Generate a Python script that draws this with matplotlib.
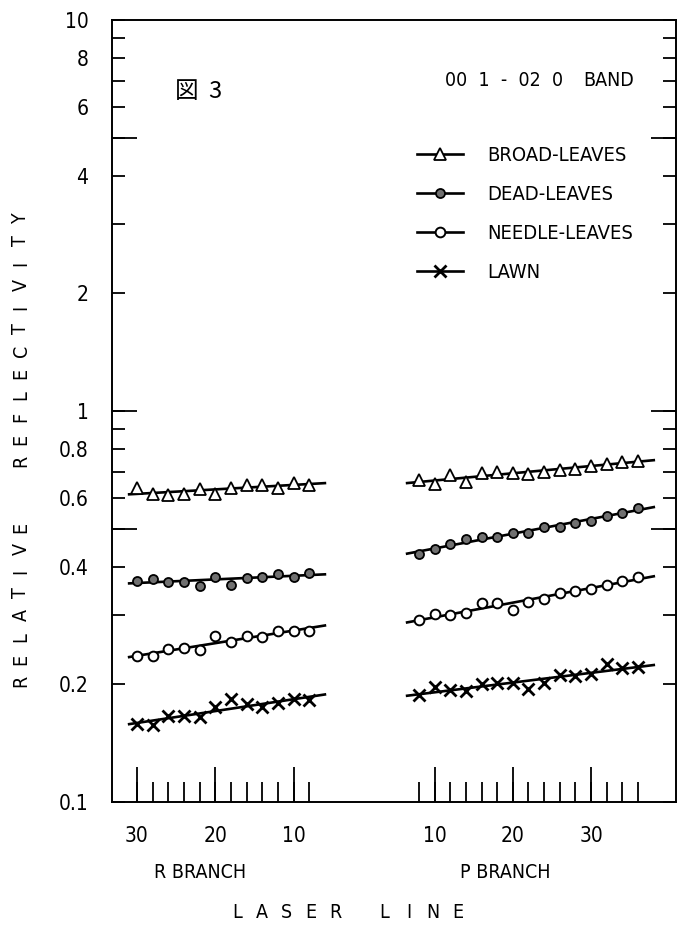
import numpy as np
import matplotlib
matplotlib.use("Agg")
import matplotlib.pyplot as plt
from matplotlib.lines import Line2D
from matplotlib.ticker import FixedLocator, FixedFormatter, NullFormatter

# =====================================
# Data
# =====================================
r_lines = [30, 28, 26, 24, 22, 20, 18, 16, 14, 12, 10, 8]
p_lines = [8, 10, 12, 14, 16, 18, 20, 22, 24, 26, 28, 30, 32, 34, 36]

broad_r = [0.634, 0.612, 0.610, 0.615, 0.631, 0.615, 0.634, 0.647, 0.647, 0.637, 0.656, 0.647]
dead_r = [0.368, 0.372, 0.366, 0.366, 0.357, 0.376, 0.359, 0.375, 0.376, 0.384, 0.377, 0.386]
needle_r = [0.236, 0.236, 0.246, 0.248, 0.245, 0.266, 0.256, 0.266, 0.265, 0.273, 0.274, 0.274]
lawn_r = [0.158, 0.157, 0.166, 0.166, 0.165, 0.175, 0.183, 0.178, 0.175, 0.179, 0.183, 0.182]

broad_p = [0.666, 0.649, 0.686, 0.657, 0.693, 0.700, 0.696, 0.689, 0.697, 0.707,
           0.711, 0.723, 0.731, 0.742, 0.746]
dead_p = [0.430, 0.443, 0.457, 0.471, 0.477, 0.475, 0.487, 0.487, 0.504, 0.506,
          0.516, 0.523, 0.540, 0.550, 0.566]
needle_p = [0.292, 0.303, 0.300, 0.304, 0.322, 0.322, 0.309, 0.325, 0.330, 0.343,
            0.347, 0.351, 0.359, 0.367, 0.377]
lawn_p = [0.188, 0.197, 0.193, 0.192, 0.200, 0.202, 0.201, 0.195, 0.202, 0.211,
          0.210, 0.213, 0.225, 0.220, 0.221]

series_names = ["BROAD-LEAVES", "DEAD-LEAVES", "NEEDLE-LEAVES", "LAWN"]
r_values = [broad_r, dead_r, needle_r, lawn_r]
p_values = [broad_p, dead_p, needle_p, lawn_p]

y_ticks = [0.1, 0.2, 0.3, 0.4, 0.5, 0.6, 0.7, 0.8, 0.9,
           1, 2, 3, 4, 5, 6, 7, 8, 9, 10]
y_labels = ["0.1", "0.2", "", "0.4", "", "0.6", "", "0.8", "",
            "1", "2", "", "4", "", "6", "", "8", "", "10"]
x_major_r = [30, 20, 10]
x_major_p = [10, 20, 30]

FONT = ["Liberation Sans Narrow", "DejaVu Sans"]
plt.rcParams["font.family"] = FONT
plt.rcParams["font.stretch"] = "condensed"


# R branch runs right-to-left, P branch left-to-right, with a gap between
def r_pos(j):
    return 30 - np.asarray(j, dtype=float)


def p_pos(j):
    return 28 + np.asarray(j, dtype=float)


styles = [
    dict(marker="^", mfc="white", mec="black", ms=9, mew=1.3),
    dict(marker="o", mfc="#707070", mec="black", ms=6.5, mew=1.3),
    dict(marker="o", mfc="white", mec="black", ms=7, mew=1.4),
    dict(marker="x", mec="black", ms=8, mew=2.0),
]

fig = plt.figure(figsize=(6.88, 9.40), dpi=100)
ax = fig.add_axes([112 / 688, 1 - 802 / 940, (676 - 112) / 688, (802 - 20) / 940])

for name, vr, vp, st in zip(series_names, r_values, p_values, styles):
    for pos, vals, span in ((r_pos(r_lines), vr, (-1.0, 24.0)),
                            (p_pos(p_lines), vp, (34.5, 66.0))):
        # straight fit line in log space
        a, b = np.polyfit(pos, np.log10(vals), 1)
        xs = np.array(span)
        ax.plot(xs, 10 ** (a * xs + b), color="black", lw=1.9, zorder=2)
        ax.plot(pos, vals, linestyle="none", zorder=3, **st)

# =====================================
# Axes
# =====================================
ax.set_yscale("log")
ax.set_ylim(0.1, 10)
ax.set_xlim(-3.19, 68.84)

ax.yaxis.set_major_locator(FixedLocator(y_ticks))
ax.yaxis.set_major_formatter(FixedFormatter(y_labels))
ax.yaxis.set_minor_locator(FixedLocator([0.5, 1, 5]))
ax.yaxis.set_minor_formatter(NullFormatter())
ax.yaxis.remove_overlapping_locs = False
ax.tick_params(axis="y", which="major", direction="in", length=9.5, width=1.3,
               left=True, right=True, pad=17, labelsize=15)
ax.tick_params(axis="y", which="minor", direction="in", length=18, width=1.3,
               left=True, right=True)

major_x = list(r_pos(x_major_r)) + list(p_pos(x_major_p))
minor_x = list(r_pos(r_lines)) + list(p_pos(p_lines))
ax.set_xticks(major_x)
ax.set_xticklabels([str(v) for v in x_major_r + x_major_p])
ax.set_xticks(minor_x, minor=True)
ax.xaxis.remove_overlapping_locs = False
ax.tick_params(axis="x", which="major", direction="in", length=25, width=1.3,
               top=False, pad=17, labelsize=15)
ax.tick_params(axis="x", which="minor", direction="in", length=14.5, width=1.3,
               top=False)

for sp in ax.spines.values():
    sp.set_linewidth(1.4)

# =====================================
# Legend and text
# =====================================
handles = [Line2D([], [], color="black", lw=1.9, **st) for st in styles]
ax.legend(handles, series_names, loc="upper left",
          bbox_to_anchor=(417 / 688, 1 - 146 / 940), bbox_transform=fig.transFigure,
          frameon=False, fontsize=14.5, handlelength=2.3, handletextpad=1.2,
          labelspacing=1.0, borderpad=0, borderaxespad=0)

fig.text(445 / 688, 1 - 81 / 940, "00  1  -  02  0", ha="left", va="center",
         fontsize=14)
fig.text(634 / 688, 1 - 81 / 940, "BAND", ha="right", va="center", fontsize=14)
fig.text(175 / 688, 1 - 92 / 940, "図  3", ha="left", va="center", fontsize=17,
         family=["Noto Sans CJK JP", "DejaVu Sans"])

fig.text(200 / 688, 1 - 872 / 940, "R BRANCH", ha="center", va="center", fontsize=14)
fig.text(505 / 688, 1 - 872 / 940, "P BRANCH", ha="center", va="center", fontsize=14)

# letter-spaced axis titles
for k, ch in enumerate("LASER LINE"):
    fig.text((237 + 24.5 * k) / 688, 1 - 912 / 940, ch, ha="center", va="center",
             fontsize=14)
for k, ch in enumerate("RELATIVE  REFLECTIVITY"):
    fig.text(21 / 688, 1 - (681 - 22 * k) / 940, ch, rotation=90, ha="center",
             va="center", fontsize=14)

fig.savefig("out.png", dpi=100)
